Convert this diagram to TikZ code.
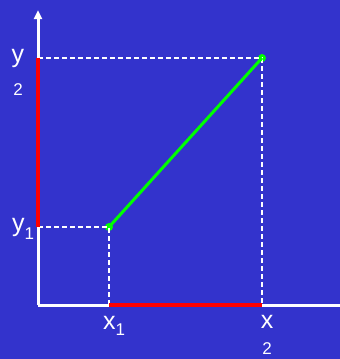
\documentclass[tikz,border=0pt]{standalone}
\usepackage{fontspec}
\setmainfont{Liberation Sans}
\usetikzlibrary{arrows.meta}
\definecolor{bg}{RGB}{51,51,204}
\definecolor{grn}{RGB}{0,255,0}
\definecolor{rd}{RGB}{255,0,0}
\tikzset{
  axis/.style={draw=white,line width=3pt},
  guide/.style={draw=white,line width=1.2pt,dash pattern=on 5pt off 3pt},
  redseg/.style={draw=rd,line width=4pt},
  seg/.style={draw=grn,line width=3pt},
  dot/.style={circle,fill=grn,inner sep=0pt,minimum size=8pt},
  lbl/.style={text=white,inner sep=0pt,anchor=base,font=\fontsize{25}{25}\selectfont},
  sub/.style={text=white,inner sep=0pt,anchor=base,font=\fontsize{17}{17}\selectfont},
}
\begin{document}
\begin{tikzpicture}[x=1pt,y=-1pt]
\useasboundingbox[fill=bg] (0,0) rectangle (340,359);
\coordinate (O) at (38,305);
\coordinate (Ytop) at (38,10);
\coordinate (Xend) at (340,305);
\coordinate (Y1) at (38,227);
\coordinate (Y2) at (38,58);
\coordinate (X1) at (109,305);
\coordinate (X2) at (262,305);
\node[dot] (P1) at (109,227) {};
\node[dot] (P2) at (262,58) {};
% guides
\draw[guide] (Y2) -- (P2.center) -- (X2);
\draw[guide] (Y1) -- (P1.center) -- (X1);
% axes
\draw[axis,-{Triangle[width=8pt,length=9pt]}] (O) -- (Ytop);
\draw[axis] (O) -- (Xend);
% red ranges
\draw[redseg] (Y1) -- (Y2);
\draw[redseg] (X1) -- (X2);
% segment
\draw[seg] (P1.center) -- (P2.center);
% labels
\node[lbl] (ly2) at (18,62) {y};
\node[sub] (ly2s) at (18,95) {2};
\node[lbl,anchor=base west] (ly1) at (12,231) {y\raisebox{-8pt}{\fontsize{17}{17}\selectfont 1}};
\node[lbl,anchor=base west] (lx1) at (103,329) {x\raisebox{-6pt}{\fontsize{17}{17}\selectfont 1}};
\node[lbl] (lx2) at (267,328) {x};
\node[sub] (lx2s) at (267,354) {2};
\end{tikzpicture}
\end{document}
